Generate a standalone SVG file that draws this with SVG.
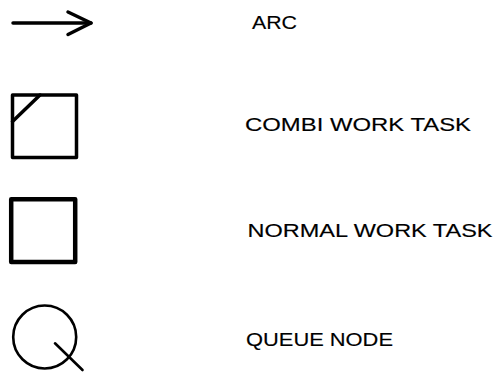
<svg xmlns="http://www.w3.org/2000/svg" width="499" height="372" viewBox="0 0 499 372">
  <style>
    .sym { fill: none; stroke: #000; stroke-linecap: round; stroke-linejoin: round; }
    .label { font-family: "Liberation Sans", Arial, sans-serif; font-size: 19px; fill: #000; stroke: #000; stroke-width: 0.15px; }
  </style>
  <rect width="499" height="372" fill="#fff"/>

  <!-- legend: arc symbol -->
  <g id="connectors">
    <g id="arc-symbol">
      <line class="sym" x1="13" y1="23" x2="91" y2="23" stroke-width="3.5"/>
      <polyline class="sym" points="68,12 91,23 68,34.5" stroke-width="3.5"/>
    </g>
  </g>
  <text class="label" x="252" y="28.5" textLength="45" lengthAdjust="spacingAndGlyphs">ARC</text>

  <!-- legend: combi work task -->
  <g id="combi-work-task">
    <rect class="sym" x="12.5" y="95" width="64" height="62.5" stroke-width="3.5" stroke-linecap="butt" stroke-linejoin="miter"/>
    <line class="sym" x1="12.5" y1="121.5" x2="40" y2="95" stroke-width="3.5"/>
  </g>
  <text class="label" x="245" y="131" textLength="226" lengthAdjust="spacingAndGlyphs">COMBI WORK TASK</text>

  <!-- legend: normal work task -->
  <g id="normal-work-task">
    <rect class="sym" x="11.2" y="199.2" width="64" height="62.8" stroke-width="4.5" stroke-linecap="butt" stroke-linejoin="miter"/>
  </g>
  <text class="label" x="247.5" y="236.8" textLength="245" lengthAdjust="spacingAndGlyphs">NORMAL WORK TASK</text>

  <!-- legend: queue node -->
  <g id="queue-node">
    <circle class="sym" cx="44.7" cy="337" r="31.5" stroke-width="2.6"/>
    <line class="sym" x1="55" y1="343.3" x2="82.5" y2="370" stroke-width="2.6"/>
  </g>
  <text class="label" x="246" y="346" textLength="147" lengthAdjust="spacingAndGlyphs">QUEUE NODE</text>
</svg>
